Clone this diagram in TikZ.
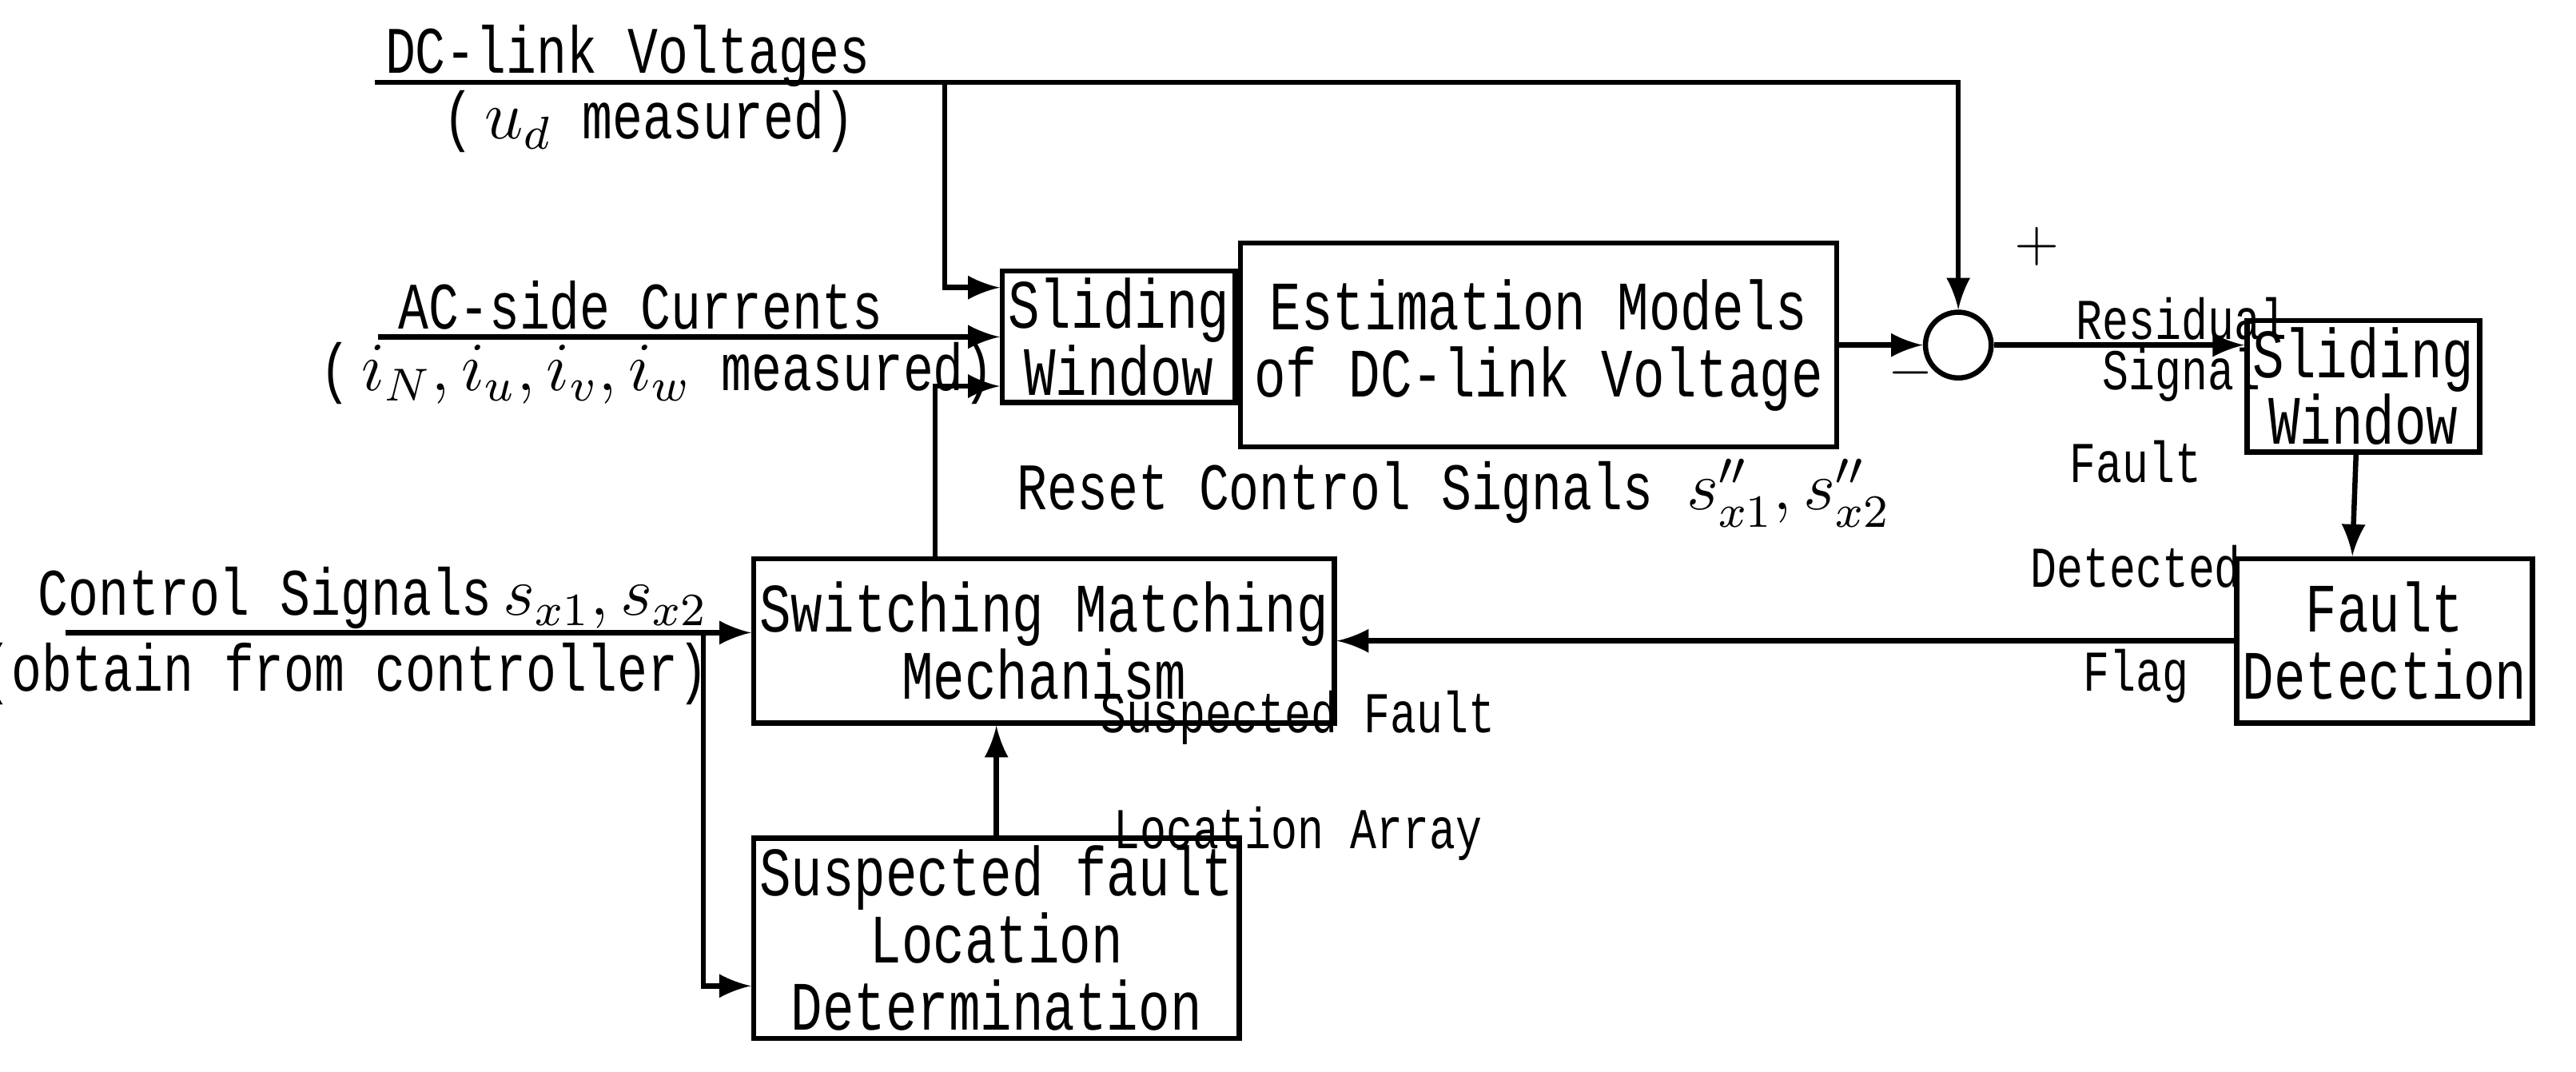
\documentclass[tikz,border=0pt]{standalone}
\usepackage{fontspec}
\setmainfont[FakeStretch=0.76]{Liberation Mono}
\usetikzlibrary{arrows,positioning,calc}

\begin{document}
\begin{tikzpicture}[x=1cm,y=1cm]
\tikzstyle{every node}=[font=\fontsize{12}{11.6}\selectfont]
\tikzstyle{blk}=[draw=black, line width=0.9pt, rectangle, align=center, inner sep=1pt]
\tikzstyle{lbl}=[align=center, inner sep=1pt, font=\fontsize{11.5}{11.5}\selectfont]
\tikzstyle{sml}=[align=center, inner sep=1pt, font=\fontsize{10}{10}\selectfont]
\tikzstyle{sig}=[line width=0.9pt]
\useasboundingbox (0,0) rectangle (15.68,-6.52);

% blocks
\node[blk, minimum width=1.38cm, minimum height=0.80cm] at (6.81,-2.05) (sw1) {Sliding\\Window};
\node[blk, minimum width=3.63cm, minimum height=1.24cm] at (9.365,-2.10) (est) {Estimation Models\\of DC-link Voltage};
\node[draw, line width=0.9pt, circle, minimum size=0.40cm, inner sep=0pt] at (11.92,-2.10) (sum) {};
\node[blk, minimum width=1.33cm, minimum height=0.80cm] at (14.385,-2.35) (sw2) {Sliding\\Window};
\node[blk, minimum width=1.67cm, minimum height=1.00cm] at (14.515,-3.90) (fd) {Fault\\Detection};
\node[blk, minimum width=3.45cm, minimum height=1.00cm] at (6.355,-3.90) (smm) {Switching Matching\\Mechanism};
\node[blk, minimum width=2.77cm, minimum height=1.22cm] at (6.065,-5.71) (sfl) {Suspected fault\\Location\\Determination};

% input points
\coordinate (dcin) at (2.28,-0.50);
\coordinate (dcb) at (5.75,-0.50);
\coordinate (acin) at (2.30,-2.05);
\coordinate (csin) at (0.40,-3.85);
\coordinate (csb) at (4.28,-3.85);

% texts
\node[lbl] at (3.82,-0.34) (dclbl) {DC-link Voltages};
\node[lbl] at (3.95,-0.74) (udlbl) {($\,u_d$ measured)};
\node[lbl] at (3.90,-1.86) (aclbl) {AC-side Currents};
\node[lbl] at (4.00,-2.27) (iclbl) {(\,$i_N,i_u,i_v,i_w$ measured)};
\node[lbl] at (2.27,-3.64) (cslbl) {Control Signals\,$s_{x1},s_{x2}$};
\node[lbl] at (2.10,-4.10) (oblbl) {(obtain from controller)};
\node[lbl, anchor=west] at (6.15,-3.00) (rclbl) {Reset Control Signals\enspace$s''_{x1},s''_{x2}$};
\node[sml] at (13.00,-3.48) (fdlbl) {Fault\\[8pt]Detected\\[8pt]Flag};
\node[sml] at (7.90,-4.72) (salbl) {Suspected Fault\\[10pt]Location Array};
\node[sml] at (13.28,-1.94) (rslbl) {Residual};
\node[sml] at (13.28,-2.28) (sglbl) {Signal};
\node[sml] at (11.63,-2.27) (mnlbl) {$-$};
\node[sml] at (12.40,-1.50) (pllbl) {$+$};

% connectors
\draw[sig,-latex] (dcin) -| (sum.north);
\draw[sig,-latex] (dcb) |- ([yshift=0.30cm]sw1.west);
\draw[sig,-latex] (acin) -- (sw1.west);
\draw[sig,-latex] ($(smm.north west)+(1.12,0)$) |- ([yshift=-0.30cm]sw1.west);
\draw[sig] ([yshift=0.20cm]sw1.east) -- ([yshift=0.20cm]sw1.east -| est.west);
\draw[sig] (sw1.east) -- (sw1.east -| est.west);
\draw[sig] ([yshift=-0.23cm]sw1.east) -- ([yshift=-0.23cm]sw1.east -| est.west);
\draw[sig,-latex] (est.east) -- (sum.west);
\draw[sig,-latex] (sum.east) -- (sum.east -| sw2.west);
\draw[sig,-latex] ($(sw2.south west)+(0.68,0)$) -- ($(fd.north west)+(0.72,0)$);
\draw[sig,-latex] (fd.west) -- (smm.east);
\draw[sig,-latex] (csin) -- (csin -| smm.west);
\draw[sig,-latex] (csb) |- ([yshift=-0.29cm]sfl.west);
\draw[sig,-latex] (sfl.north) -- (smm.south -| sfl.north);

\end{tikzpicture}
\end{document}
